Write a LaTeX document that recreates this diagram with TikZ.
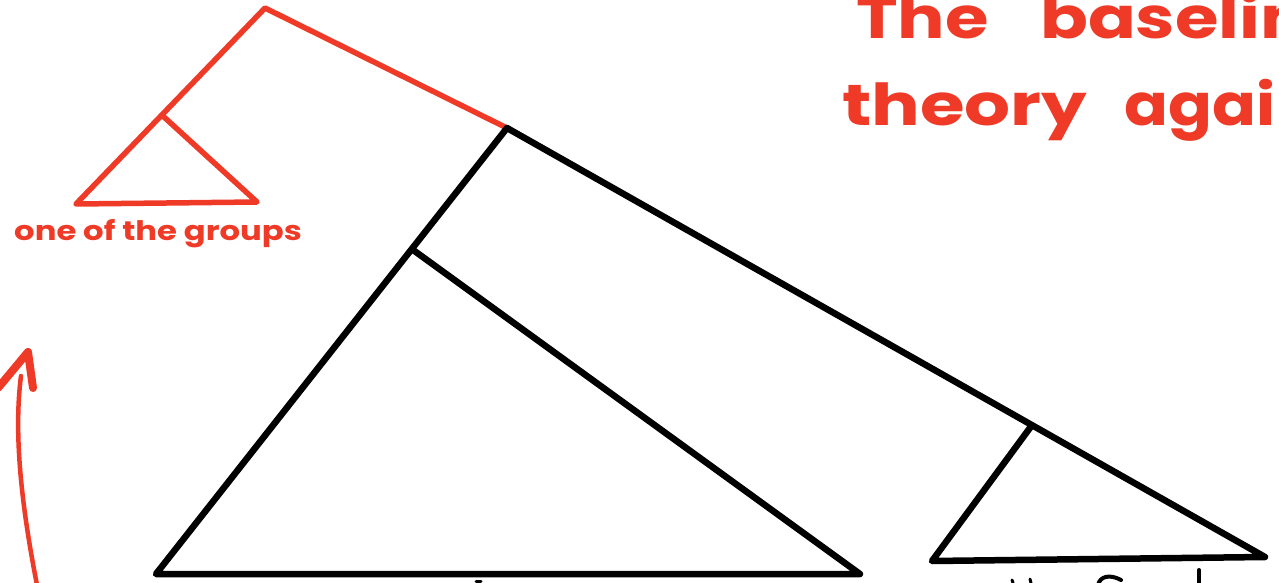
\documentclass[tikz,border=0pt]{standalone}
\usepackage{fontspec}
\usetikzlibrary{calc}
\setmainfont{Poppins}
\definecolor{pen}{RGB}{238,58,38}
\begin{document}
\begin{tikzpicture}[x=1bp,y=-1bp,
  inkred/.style={draw=pen,line width=5.5bp,line cap=round,line join=round},
  inkblack/.style={draw=black,line width=6.5bp,line cap=round,line join=round},
  hand/.style={text=pen,inner sep=0pt,anchor=base west}]
\useasboundingbox (0,0) rectangle (1279,583);
\clip (0,0) rectangle (1279,583);
% red part
\coordinate (r0) at (265,8);
\coordinate (rl) at (76,204);
\coordinate (r1) at ($(r0)!0.546!(rl)$);
\coordinate (rr) at (257,202);
\coordinate (b0) at (507,128);
\draw[inkred] (b0) -- (r0) -- (rl) -- (rr) -- (r1);
% black part
\coordinate (bl) at (156,574);
\coordinate (b1) at ($(b0)!0.2713!(bl)$);
\coordinate (br) at (860,574);
\coordinate (sr) at (1265,557);
\coordinate (b2) at ($(b0)!0.6926!(sr)$);
\coordinate (sl) at (932,561);
\draw[inkblack] (b0) -- (bl) -- (br) -- (b1);
\draw[inkblack] (b0) -- (sr) -- (sl) -- (b2);
% arrow
\coordinate (a0) at (38,590);
\coordinate (a1) at (21,376);
\coordinate (ah) at (28,352);
\coordinate (al) at (-2,388);
\coordinate (ar) at (33,388);
\draw[draw=pen,line width=4.5bp,line cap=round] (a0) .. controls (20,500) and (14,430) .. (a1);
\draw[draw=pen,line width=8bp,line cap=round,line join=round] (al) -- (ah) -- (ar);
% texts
\node[hand,font=\bfseries\fontsize{58}{58}\selectfont] (t1) at (856,39) {\scalebox{1.22}[1]{The}};
\node[hand,font=\bfseries\fontsize{58}{58}\selectfont] (t2) at (1040,39) {\scalebox{1.22}[1]{baseline}};
\node[hand,font=\bfseries\fontsize{58}{58}\selectfont] (t3) at (842,126) {\scalebox{1.25}[1]{theory}};
\node[hand,font=\bfseries\fontsize{58}{58}\selectfont] (t4) at (1124,126) {\scalebox{1.12}[1]{again}};
\node[hand,font=\bfseries\fontsize{27}{27}\selectfont] (g) at (14,241) {\scalebox{1.2}[1]{one of the groups}};
% cut-off black text at the bottom
\draw[black,line width=3bp,line cap=round] (476,581) -- (481,581);
\draw[black,line width=3bp,line cap=round] (1012,580) -- (1013,583);
\draw[black,line width=3bp,line cap=round] (1030,579) -- (1031,583);
\draw[black,line width=4bp,line cap=round] (1098,585) .. controls (1100,576) and (1110,574) .. (1121,580);
\draw[black,line width=4bp,line cap=round] (1199,570) -- (1199,585);
\end{tikzpicture}
\end{document}
